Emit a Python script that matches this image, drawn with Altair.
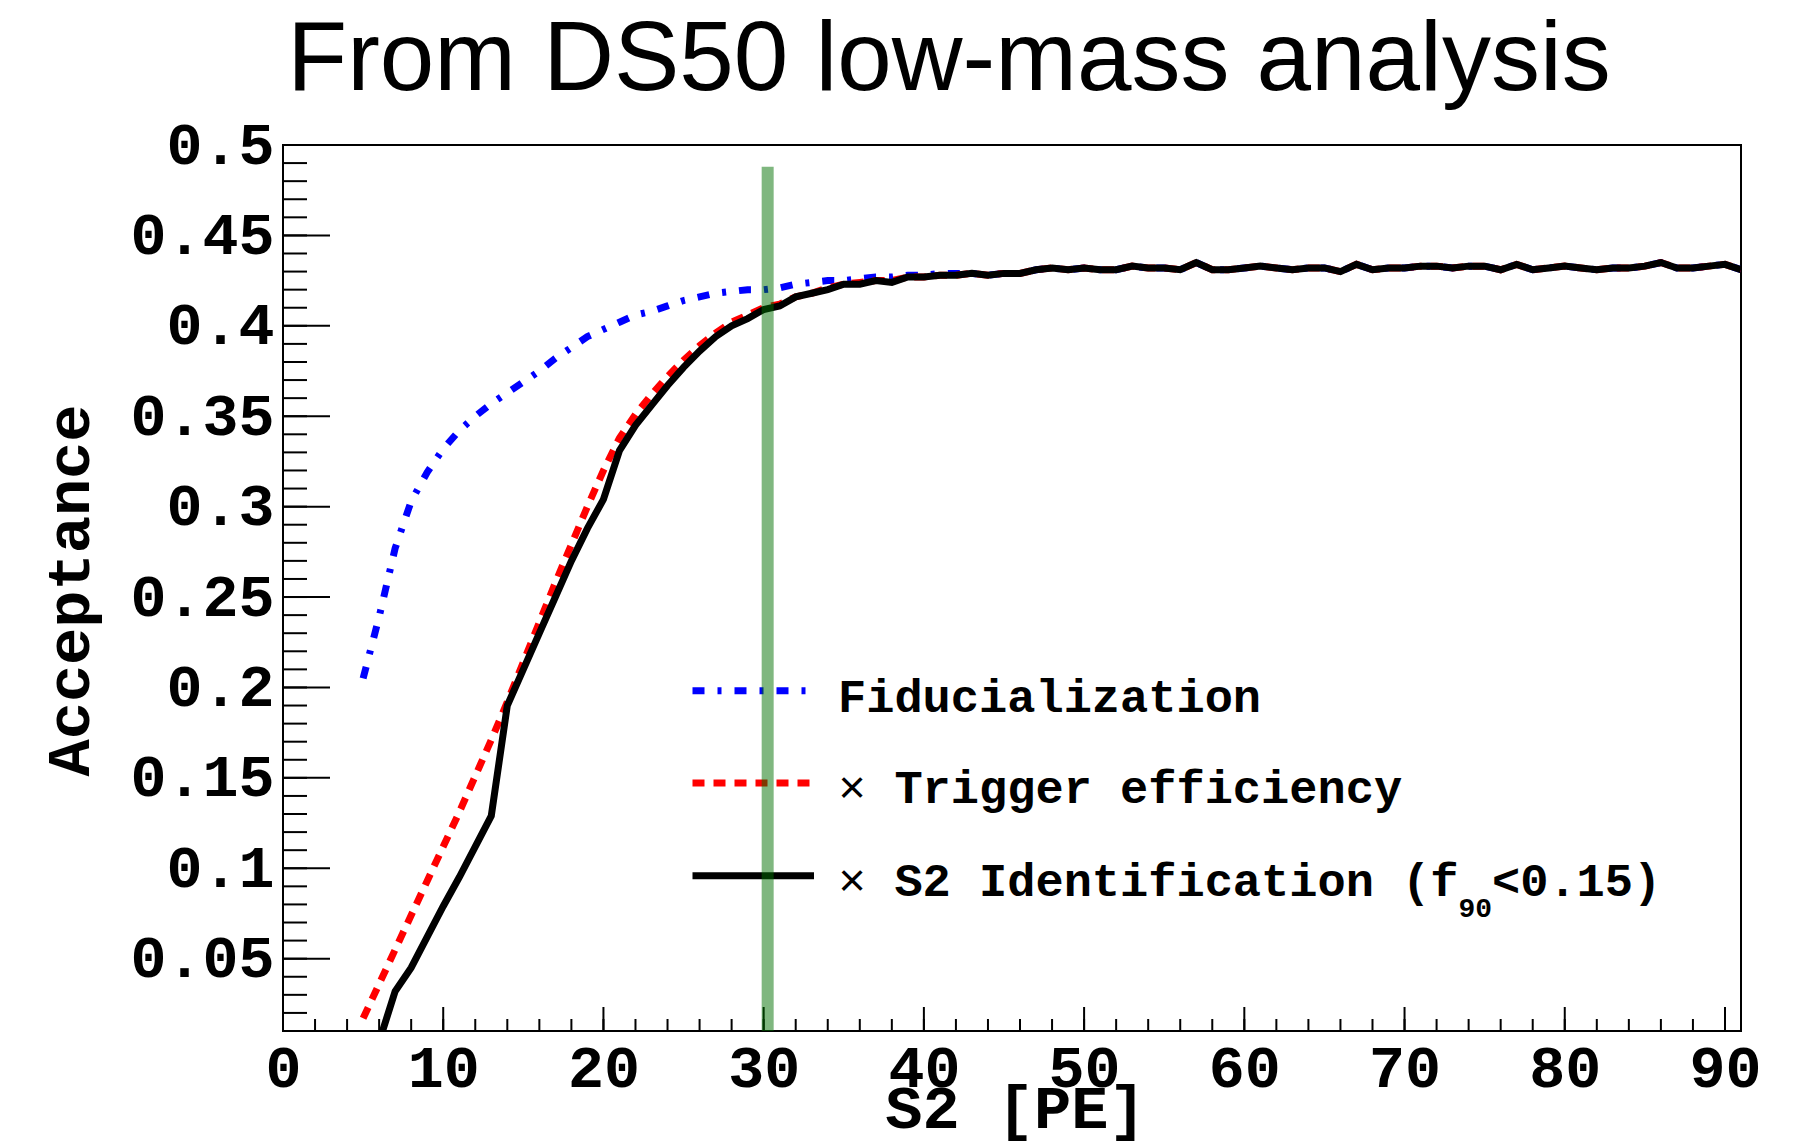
import altair as alt
import pandas as pd

# ---- acceptance curves vs S2 (PE) ----
s2_fid = list(range(5, 92))
acc_fid = [
    0.205, 0.239, 0.277, 0.303, 0.319, 0.332, 0.342, 0.350, 0.357, 0.363,
    0.369, 0.375, 0.382, 0.388, 0.394, 0.398, 0.402, 0.406, 0.408, 0.411,
    0.414, 0.416, 0.418, 0.419, 0.420, 0.420, 0.421, 0.423, 0.424, 0.425,
    0.425, 0.426, 0.427, 0.427, 0.428, 0.428, 0.429, 0.429, 0.429, 0.428,
    0.429, 0.429, 0.431, 0.432, 0.431, 0.432, 0.431, 0.431, 0.433, 0.432,
    0.432, 0.431, 0.435, 0.431, 0.431, 0.432, 0.433, 0.432, 0.431, 0.432,
    0.432, 0.430, 0.434, 0.431, 0.432, 0.432, 0.433, 0.433, 0.432, 0.433,
    0.433, 0.431, 0.434, 0.431, 0.432, 0.433, 0.432, 0.431, 0.432, 0.432,
    0.433, 0.435, 0.432, 0.432, 0.433, 0.434, 0.431,
]

s2_trig = list(range(5, 92))
acc_trig = [
    0.017, 0.036, 0.055, 0.074, 0.093, 0.112, 0.131, 0.151, 0.171, 0.192,
    0.214, 0.236, 0.258, 0.279, 0.300, 0.320, 0.338, 0.351, 0.362, 0.372,
    0.381, 0.389, 0.396, 0.402, 0.406, 0.410, 0.412, 0.416, 0.418, 0.421,
    0.423, 0.424, 0.425, 0.425, 0.427, 0.427, 0.428, 0.428, 0.429, 0.428,
    0.429, 0.429, 0.431, 0.432, 0.431, 0.432, 0.431, 0.431, 0.433, 0.432,
    0.432, 0.431, 0.435, 0.431, 0.431, 0.432, 0.433, 0.432, 0.431, 0.432,
    0.432, 0.430, 0.434, 0.431, 0.432, 0.432, 0.433, 0.433, 0.432, 0.433,
    0.433, 0.431, 0.434, 0.431, 0.432, 0.433, 0.432, 0.431, 0.432, 0.432,
    0.433, 0.435, 0.432, 0.432, 0.433, 0.434, 0.431,
]

s2_s2id = list(range(6, 92))
acc_s2id = [
    0.004, 0.032, 0.045, 0.062, 0.079, 0.095, 0.112, 0.129, 0.190, 0.210,
    0.230, 0.250, 0.270, 0.288, 0.304, 0.331, 0.345, 0.356, 0.367, 0.377,
    0.386, 0.394, 0.400, 0.404, 0.409, 0.411, 0.416, 0.418, 0.420, 0.423,
    0.423, 0.425, 0.424, 0.427, 0.427, 0.428, 0.428, 0.429, 0.428, 0.429,
    0.429, 0.431, 0.432, 0.431, 0.432, 0.431, 0.431, 0.433, 0.432, 0.432,
    0.431, 0.435, 0.431, 0.431, 0.432, 0.433, 0.432, 0.431, 0.432, 0.432,
    0.430, 0.434, 0.431, 0.432, 0.432, 0.433, 0.433, 0.432, 0.433, 0.433,
    0.431, 0.434, 0.431, 0.432, 0.433, 0.432, 0.431, 0.432, 0.432, 0.433,
    0.435, 0.432, 0.432, 0.433, 0.434, 0.431,
]

# S2 threshold marker
cut_s2 = [30.25]
cut_top = [0.488]
cut_bottom = [0.01]

# axis ticks
x_major = list(range(0, 100, 10))
x_minor = list(range(0, 92, 2))
y_major = [0.05, 0.1, 0.15, 0.2, 0.25, 0.3, 0.35, 0.4, 0.45, 0.5]
y_minor = [round(0.01 * i, 2) for i in range(1, 51)]

legend_labels = ["Fiducialization", "Trigger efficiency",
                 "S2 Identification (f", "90", "<0.15)"]

MONO = "Liberation Mono"
SANS = "Liberation Sans"
W, H = 1458, 886

x_axis = alt.Axis(
    values=x_major, format="d", ticks=False, domain=False, grid=False,
    labelFont=MONO, labelFontWeight="bold", labelFontSize=60, labelColor="black",
    labelPadding=8, labelFlush=False, labelOverlap=False, labelBound=False,
    title="S2 [PE]", titleFont=MONO, titleFontWeight="bold", titleFontSize=62,
    titleColor="black", titleX=732, titleY=96, titleAlign="center",
    titleBaseline="alphabetic",
)
y_axis = alt.Axis(
    values=y_major, format="~g", ticks=False, domain=False, grid=False,
    labelFont=MONO, labelFontWeight="bold", labelFontSize=60, labelColor="black",
    labelPadding=9, labelFlush=False, labelOverlap=False, labelBound=False,
    title="Acceptance", titleFont=MONO, titleFontWeight="bold", titleFontSize=62,
    titleColor="black", titleAngle=270, titleX=-195, titleY=445,
    titleAlign="center", titleBaseline="alphabetic",
)

X = alt.X("s2:Q", scale=alt.Scale(domain=[0, 91], nice=False, zero=False), axis=x_axis)
Y = alt.Y("acc:Q", scale=alt.Scale(domain=[0.01, 0.5], nice=False, zero=False), axis=y_axis)

# inward-pointing tick marks
yt_minor = alt.Chart(pd.DataFrame({"acc": y_minor})).mark_rule(
    color="black", strokeWidth=2).encode(y=Y, x=alt.value(0), x2=alt.value(24))
yt_major = alt.Chart(pd.DataFrame({"acc": y_major})).mark_rule(
    color="black", strokeWidth=2).encode(y=Y, x=alt.value(0), x2=alt.value(47))
xt_minor = alt.Chart(pd.DataFrame({"s2": x_minor})).mark_rule(
    color="black", strokeWidth=2).encode(x=X, y=alt.value(H - 12), y2=alt.value(H))
xt_major = alt.Chart(pd.DataFrame({"s2": x_major})).mark_rule(
    color="black", strokeWidth=2).encode(x=X, y=alt.value(H - 24), y2=alt.value(H))

LW = 7
DASH_FID = [12, 13, 4, 13]
DASH_TRIG = [12, 9]

fid = alt.Chart(pd.DataFrame({"s2": s2_fid, "acc": acc_fid})).mark_line(
    color="#0000ff", strokeWidth=LW, strokeDash=DASH_FID, clip=True).encode(x=X, y=Y)
trig = alt.Chart(pd.DataFrame({"s2": s2_trig, "acc": acc_trig})).mark_line(
    color="#ff0000", strokeWidth=LW, strokeDash=DASH_TRIG, clip=True).encode(x=X, y=Y)
s2id = alt.Chart(pd.DataFrame({"s2": s2_s2id, "acc": acc_s2id})).mark_line(
    color="black", strokeWidth=LW, clip=True).encode(x=X, y=Y)

cut = alt.Chart(pd.DataFrame({"s2": cut_s2, "acc": cut_top, "acc2": cut_bottom})).mark_rule(
    color="#006f00", opacity=0.5, strokeWidth=12).encode(x=X, y=Y, y2="acc2:Q")

one = pd.DataFrame({"k": [0]})


def sample(ypos, color, dash=None):
    kw = dict(color=color, strokeWidth=LW)
    if dash:
        kw["strokeDash"] = dash
    return alt.Chart(one).mark_rule(**kw).encode(
        x=alt.value(409.5), x2=alt.value(531), y=alt.value(ypos))


def label(text, x, y, size=47, weight="bold", font=MONO, align="left"):
    return alt.Chart(pd.DataFrame({"t": [text]})).mark_text(
        align=align, baseline="alphabetic", font=font, fontSize=size,
        fontWeight=weight, color="black").encode(
        x=alt.value(x), y=alt.value(y), text="t:N")


FS = 47
CW = 0.6 * FS  # monospace advance
TX = 555
TX2 = TX + 2 * CW
sub_x = TX2 + len(legend_labels[2]) * CW
rest_x = sub_x + 2 * 0.6 * 28

legend = [
    sample(545.7, "#0000ff", DASH_FID),
    sample(638, "#ff0000", DASH_TRIG),
    sample(730.7, "black"),
    label(legend_labels[0], TX, 566.7),
    label("\u00d7", TX, 658, weight="normal"),
    label(legend_labels[1], TX2, 658),
    label("\u00d7", TX, 750.7, weight="normal"),
    label(legend_labels[2], TX2, 750.7),
    label(legend_labels[3], sub_x, 772, size=28),
    label(legend_labels[4], rest_x, 750.7),
]

title = label("From DS50 low-mass analysis", 666, -55, size=98,
              weight="normal", font=SANS, align="center")

chart = alt.layer(
    yt_minor, yt_major, xt_minor, xt_major,
    fid, trig, s2id,
    *legend,
    cut,
    title,
).properties(
    width=W, height=H,
    padding={"left": 283, "top": 145, "right": 63, "bottom": 114},
    autosize=alt.AutoSizeParams(type="none"),
    background="white",
).configure_view(stroke="black", strokeWidth=2)

chart.save("out.html", embed_options={"renderer": "svg", "actions": False})
